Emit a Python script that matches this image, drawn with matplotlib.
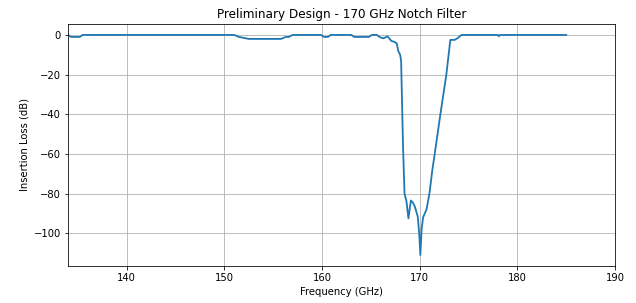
import matplotlib
matplotlib.use("Agg")
import matplotlib.pyplot as plt

freq_ghz = [134.0, 134.3, 135.2, 135.5, 151.0, 151.5, 152.5, 155.8, 156.3, 156.6,
            157.0, 159.9, 160.2, 160.6, 160.9, 163.0, 163.3, 164.8, 165.1, 165.6,
            166.0, 166.3, 166.7, 167.1, 167.4, 167.65, 167.8, 168.0, 168.1, 168.3,
            168.45, 168.65, 168.85, 169.1, 169.3, 169.5, 169.8, 169.95, 170.07, 170.2,
            170.35, 170.7, 171.0, 171.3, 171.54, 172.12, 172.73, 173.14, 173.58, 173.92,
            174.27, 178.0, 178.1, 178.2, 185.0]
loss_db = [0, -1, -1, 0, 0, -1, -2, -2, -1, -1,
           0, 0, -1, -1, 0, 0, -1, -1, 0, 0,
           -1.3, -1.7, -0.7, -3, -3.5, -4.2, -8, -10, -13, -57,
           -80, -84, -92.5, -83.5, -84.5, -86.5, -91.5, -100, -111, -98,
           -92, -88, -80, -68, -60, -40, -20, -2.5, -2.5, -1.5,
           0, 0, -0.7, 0, 0]

title = "Preliminary Design - 170 GHz Notch Filter"
xlabel = "Frequency (GHz)"
ylabel = "Insertion Loss (dB)"

DPI = 72
fig = plt.figure(figsize=(636 / DPI, 303 / DPI), dpi=DPI)
ax = fig.add_subplot(111)
fig.subplots_adjust(left=0.107, right=0.967, top=0.921, bottom=0.122)
ax.plot(freq_ghz, loss_db, color="tab:blue", linewidth=1.8)
ax.set_xlim(134, 190)
ax.set_title(title)
ax.set_xlabel(xlabel)
ax.set_ylabel(ylabel)
ax.grid(True)
fig.savefig("out.png", dpi=DPI)
